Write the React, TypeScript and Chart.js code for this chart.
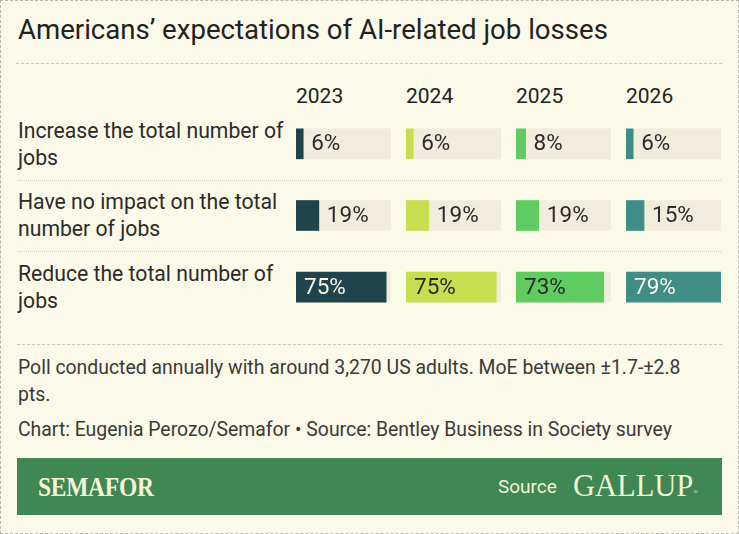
import React, { useEffect, useRef } from "react";
import { Chart, registerables } from "chart.js";

Chart.register(...registerables);

// Survey answers, one row each
const answers: string[][] = [
  ["Increase the total number of", "jobs"],
  ["Have no impact on the total", "number of jobs"],
  ["Reduce the total number of", "jobs"],
];
const answerKeys = ["Increase", "No impact", "Reduce"];

// Survey years, one column each
const years = ["2023", "2024", "2025", "2026"];

// Share of respondents (%), per year, in answer order
const values2023 = [6, 19, 75];
const values2024 = [6, 19, 75];
const values2025 = [8, 19, 73];
const values2026 = [6, 15, 79];
const seriesByYear = [values2023, values2024, values2025, values2026];

const barColors = ["#1f444b", "#c6de4f", "#5fcb60", "#3f8d84"];
const labelOnBarColors = ["#fbf9e8", "#2b2b2b", "#2b2b2b", "#fbf9e8"];

const BG = "#fbf9e8";
const TRACK = "#f1ecdc";
const INK = "#2b2b2b";
const BODY_FONT = "Roboto, 'Noto Sans', sans-serif";
const TITLE_FONT = "Roboto, 'Noto Sans', sans-serif";

const scaleMax = Math.max(...seriesByYear.flat());

const COL_LEFT = 296;
const COL_STEP = 110;
const COL_W = 95;
const PLOT_TOP = 108;
const PLOT_H = 215;

function YearBars({ idx }: { idx: number }) {
  const ref = useRef<HTMLCanvasElement | null>(null);
  useEffect(() => {
    if (!ref.current) return;
    const values = seriesByYear[idx];
    const labelPlugin = {
      id: "valueLabels",
      afterDatasetsDraw(chart: any) {
        const ctx = chart.ctx;
        const meta = chart.getDatasetMeta(1);
        ctx.save();
        ctx.font = `22.5px ${BODY_FONT}`;
        ctx.textBaseline = "middle";
        ctx.textAlign = "left";
        meta.data.forEach((el: any, i: number) => {
          const v = values[i];
          const text = `${v}%`;
          const inside = v >= 50;
          ctx.fillStyle = inside ? labelOnBarColors[idx] : INK;
          const x = inside ? el.base + 8 : el.x + 8;
          ctx.fillText(text, x, el.y + 1);
        });
        ctx.restore();
      },
    };
    const chart = new Chart(ref.current, {
      type: "bar",
      data: {
        labels: answerKeys,
        datasets: [
          {
            label: "track",
            data: answerKeys.map(() => scaleMax),
            backgroundColor: TRACK,
            barThickness: 30,
            grouped: false,
            order: 2,
          },
          {
            label: years[idx],
            data: values,
            backgroundColor: barColors[idx],
            barThickness: 30,
            grouped: false,
            order: 1,
          },
        ],
      },
      options: {
        indexAxis: "y",
        animation: false,
        responsive: false,
        devicePixelRatio: 1,
        layout: { padding: 0 },
        plugins: { legend: { display: false }, tooltip: { enabled: false } },
        scales: {
          x: { display: false, min: 0, max: scaleMax },
          y: { display: false },
        },
      },
      plugins: [labelPlugin],
    } as any);
    return () => chart.destroy();
  }, [idx]);
  return (
    <canvas
      ref={ref}
      width={COL_W}
      height={PLOT_H}
      style={{ position: "absolute", left: COL_LEFT + idx * COL_STEP, top: PLOT_TOP, width: COL_W, height: PLOT_H }}
    />
  );
}

export default function App() {
  const rowTops = [118, 189, 261];
  return (
    <div
      style={{
        position: "fixed",
        left: 0,
        top: 0,
        width: 739,
        height: 534,
        background: BG,
        overflow: "hidden",
        fontFamily: BODY_FONT,
        color: INK,
      }}
    >
      <div
        style={{
          position: "absolute",
          left: 0,
          top: 0,
          width: 737,
          height: 532,
          border: "1px dashed #b9b8aa",
        }}
      />
      <div
        style={{
          position: "absolute",
          left: 18,
          top: 13,
          fontFamily: TITLE_FONT,
          fontSize: 28,
          lineHeight: "34px",
          color: "#222",
          whiteSpace: "nowrap",
          transform: "scaleX(0.985)",
          transformOrigin: "left center",
        }}
      >
        Americans’ expectations of AI-related job losses
      </div>
      <div style={{ position: "absolute", left: 16, top: 63, width: 706, borderTop: "1px dashed #c9c8b8" }} />

      {years.map((y, i) => (
        <div
          key={y}
          style={{ position: "absolute", left: COL_LEFT + i * COL_STEP, top: 83, fontSize: 21, lineHeight: "26px", color: "#222" }}
        >
          {y}
        </div>
      ))}

      {answers.map((lines, i) => (
        <div
          key={answerKeys[i]}
          style={{ position: "absolute", left: 18, top: rowTops[i], fontSize: 21.2, lineHeight: "26.5px", whiteSpace: "nowrap" }}
        >
          {lines[0]}
          <br />
          {lines[1]}
        </div>
      ))}
      <div style={{ position: "absolute", left: 18, top: 180, width: 703, borderTop: "1px dotted #cfcdbd" }} />
      <div style={{ position: "absolute", left: 18, top: 251, width: 703, borderTop: "1px dotted #cfcdbd" }} />

      {years.map((y, i) => (
        <YearBars key={y} idx={i} />
      ))}

      <div style={{ position: "absolute", left: 17, top: 344, width: 705, borderTop: "1px dashed #c9c8b8" }} />
      <div
        style={{ position: "absolute", left: 18, top: 354, width: 715, fontSize: 19.4, lineHeight: "27px", color: "#3a3a3a", whiteSpace: "nowrap" }}
      >
        Poll conducted annually with around 3,270 US adults. MoE between ±1.7-±2.8
        <br />
        pts.
      </div>
      <div
        style={{ position: "absolute", left: 18, top: 416, fontSize: 19.4, lineHeight: "27px", color: "#3a3a3a", whiteSpace: "nowrap" }}
      >
        Chart: Eugenia Perozo/Semafor • Source: Bentley Business in Society survey
      </div>

      <div style={{ position: "absolute", left: 17, top: 458, width: 705, height: 57, background: "#3f8753" }}>
        <div
          style={{
            position: "absolute",
            left: 21,
            top: 13,
            fontFamily: "'Liberation Serif', 'DejaVu Serif', serif",
            fontWeight: 700,
            fontSize: 27,
            lineHeight: "32px",
            color: "#f6f2d6",
            transform: "scaleX(0.87)",
            transformOrigin: "left center",
            letterSpacing: "-0.3px",
          }}
        >
          SEMAFOR
        </div>
        <div style={{ position: "absolute", left: 481, top: 16, fontSize: 19, lineHeight: "26px", color: "#f6f2d6" }}>
          Source
        </div>
        <div
          style={{
            position: "absolute",
            left: 556,
            top: 9,
            fontFamily: "'Liberation Serif', 'DejaVu Serif', serif",
            fontSize: 30.5,
            lineHeight: "38px",
            color: "#f6f2d6",
            transformOrigin: "left center",
          }}
        >
          GALLUP<sup style={{ fontSize: 6, verticalAlign: "top", position: "relative", top: 6 }}>®</sup>
        </div>
      </div>
    </div>
  );
}
